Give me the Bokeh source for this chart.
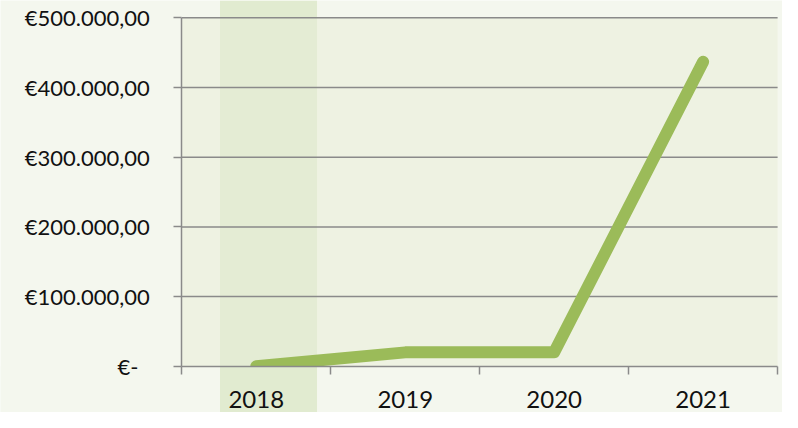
from bokeh.plotting import figure
from bokeh.models import LinearAxis, FixedTicker, Range1d
from bokeh.embed import file_html
from bokeh.resources import INLINE

# ---- data ----
years = ["2018", "2019", "2020", "2021"]
revenue = [0, 20000, 20000, 437000]
y_ticks = [0, 100000, 200000, 300000, 400000, 500000]
y_tick_labels = ["€-\u00a0\u00a0", "€100.000,00", "€200.000,00", "€300.000,00",
                 "€400.000,00", "€500.000,00"]

# ---- colours ----
OUTER = "#f4f7ee"
PLOT_BG = "#eef2e2"
BAND_IN = "#e4ecd4"
BAND_OUT = "#e1ebd0"
GRID = "#8a8a8a"
LINE = "#9bbb59"
TEXT = "#111111"
FONT = "Lato"

# ---- layout (px) ----
W, H = 782, 412
SX, SY = W / 798, H / 428
axis_x_px = 185 * SX
right_px = 793 * SX
top_px = 18 * SY
base_px = 380 * SY
n = len(years)
unit_x = (right_px - axis_x_px) / n
ymax = y_ticks[-1]
unit_y = (base_px - top_px) / ymax

x_start = -axis_x_px / unit_x
x_end = (W - axis_x_px) / unit_x
y_start = -(H - base_px) / unit_y
y_end = base_px / unit_y

band_l = (224 - 185) / 152
band_r = (323 - 185) / 152

p = figure(width=W, height=H, x_range=Range1d(x_start, x_end), y_range=Range1d(y_start, y_end),
           output_backend="svg", toolbar_location=None, min_border=0,
           x_axis_type=None, y_axis_type=None)
p.outline_line_color = None
p.background_fill_color = OUTER
p.border_fill_color = OUTER

# highlight band (full height) and plot area
p.quad(left=band_l, right=band_r, bottom=y_start, top=y_end, fill_color=BAND_OUT, line_color=None)
p.quad(left=0, right=n, bottom=0, top=ymax, fill_color=PLOT_BG, line_color=None)
p.quad(left=band_l, right=band_r, bottom=0, top=ymax, fill_color=BAND_IN, line_color=None)

# gridlines
gl = y_ticks[1:]
p.segment(x0=[0] * len(gl), x1=[n] * len(gl), y0=gl, y1=gl, line_color=GRID, line_width=1.5)

# series line
xs = [i + 0.5 for i in range(n)]
p.line(x=xs, y=revenue, line_color=LINE, line_width=12, line_cap="round", line_join="round")

# clip below zero (like the plot area clip)
p.quad(left=x_start, right=x_end, bottom=y_start, top=0, fill_color=OUTER, line_color=None)
p.quad(left=band_l, right=band_r, bottom=y_start, top=0, fill_color=BAND_OUT, line_color=None)

# y axis
yaxis = LinearAxis(fixed_location=0, ticker=FixedTicker(ticks=y_ticks),
                   major_label_overrides={t: l for t, l in zip(y_ticks, y_tick_labels)},
                   bounds=(0, ymax), axis_line_color=GRID, axis_line_width=1.5,
                   major_tick_line_color=GRID, major_tick_line_width=1.5,
                   major_tick_in=0, major_tick_out=8, minor_tick_line_color=None,
                   major_label_standoff=24, major_label_text_font=FONT,
                   major_label_text_font_size="22px", major_label_text_color=TEXT)
p.add_layout(yaxis, "left")

# x axis line + boundary ticks
bticks = list(range(n + 1))
xaxis = LinearAxis(fixed_location=0, ticker=FixedTicker(ticks=bticks),
                   major_label_overrides={t: "" for t in bticks},
                   bounds=(0, n), axis_line_color=GRID, axis_line_width=1.5,
                   major_tick_line_color=GRID, major_tick_line_width=1.5,
                   major_tick_in=0, major_tick_out=8, minor_tick_line_color=None)
p.add_layout(xaxis, "below")

# category labels
xlab = LinearAxis(fixed_location=0, ticker=FixedTicker(ticks=xs),
                  major_label_overrides={x: y for x, y in zip(xs, years)},
                  axis_line_color=None, major_tick_line_color=None, minor_tick_line_color=None,
                  major_tick_in=0, major_tick_out=0, major_label_standoff=25,
                  major_label_text_font=FONT, major_label_text_font_size="24px",
                  major_label_text_color=TEXT)
p.add_layout(xlab, "below")

open("out.html", "w").write(file_html(p, INLINE))
